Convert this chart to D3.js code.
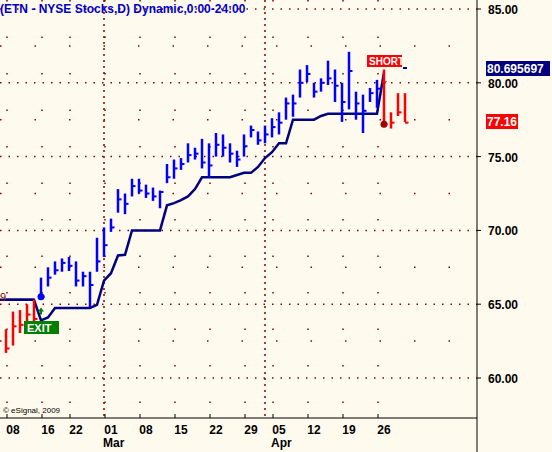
<!DOCTYPE html>
<html><head><meta charset="utf-8">
<script src="https://cdn.jsdelivr.net/npm/d3@7"></script>
<style>body{margin:0;background:#fffaee}svg{display:block;font-family:"Liberation Sans",Arial,sans-serif}</style>
</head><body><svg id="c" width="552" height="452"></svg>
<script>
// daily bars: high / low / close-tick, colour per bar
const highs = [63.3,64.5,64.6,65.0,65.3, 66.8,67.5,67.9,68.1,68.2,67.9,67.2,67.2,69.5,70.2,70.8,72.8,72.5,73.5,73.5,73.1,72.9,72.7,74.5,74.8,74.9,75.9,75.6,76.2,75.9,76.6,76.5,75.9,75.4,76.5,77.1,76.7,77.1,77.6,78.0,79.0,79.2,80.9,81.2,80.0,80.3,81.5,80.9,80.0,82.1,79.4,79.2,79.65,80.2, 80.9,78.0,79.3,79.3];
const lows  = [61.7,62.2,63.05,63.05,63.05, 65.4,66.2,67.0,67.2,67.25,66.2,66.2,64.75,67.2,68.2,69.9,71.2,71.1,72.3,72.5,72.2,72.0,71.5,73.2,73.5,74.1,74.6,74.8,74.2,73.6,75.0,75.0,74.6,74.3,75.0,76.3,75.8,75.9,76.3,76.5,77.5,77.7,79.0,80.05,79.0,79.4,79.85,78.7,77.35,78.2,77.5,76.6,78.7,78.3, 77.0,76.9,77.75,77.35];
const closes= [62.0,63.5,63.6,64.3,64.0, 65.5,66.8,67.3,67.8,67.6,66.6,66.9,66.3,67.9,69.0,70.2,72.1,71.8,73.0,72.7,72.5,72.3,72.6,73.6,74.2,74.5,75.1,75.2,74.6,74.4,75.8,75.6,75.2,74.8,75.7,76.8,76.1,76.5,77.0,77.3,78.6,78.6,80.0,80.6,79.4,80.0,80.3,79.8,78.7,80.8,78.6,78.1,79.3,79.6, 77.2,77.3,78.0,77.3];
const sides = [-1,-1,-1,-1,-1, ...Array(49).fill(1), -1,-1,-1,-1];
const stops = [65.3,65.3,65.3,65.3,65.3, 63.9,64.1,64.75,64.75,64.75,64.75,64.75,64.75,64.95,66.6,67.1,68.3,68.35,70.0,70.0,70.0,70.0,70.0,71.7,71.85,72.05,72.3,72.8,73.6,73.6,73.6,73.6,73.6,73.75,73.9,73.9,74.3,74.9,75.3,75.9,75.9,77.5,77.5,77.5,77.5,77.75,77.9,77.9,77.9,77.9,77.9,77.9,77.9,77.9,80.7];
const tickIdx = [0,5,9,14,19,24,29,34,38,43,48,53];
const tickLbl = ["08","16","22","01","08","15","22","29","05","12","19","26"];
const months = [{i:14,t:"Mar"},{i:38,t:"Apr"}];
const monthLines = [14,37];
const yTicks = [60,65,70,75,80,85];

const svg = d3.select("#c");
const W = 477, B = 418;
const x = d3.scaleLinear().domain([0,57]).range([6,405]);
const y = d3.scaleLinear().domain([60,85]).range([378,9]);
const red = "#ff0000", blue = "#0000ff", navy = "#000080", grid = "#8b0000";

svg.append("rect").attr("width",552).attr("height",452).attr("fill","#fffaee");

// dotted grid
const g = svg.append("g");
d3.range(60,85.1,2.5).forEach(v => {
  g.append("line").attr("x1",0).attr("x2",W).attr("y1",y(v)).attr("y2",y(v))
    .attr("stroke",grid).attr("stroke-width",1.5).attr("stroke-dasharray", v % 5 === 0 ? "1.5,7" : "1.5,33");
});
tickIdx.forEach(i => {
  g.append("line").attr("x1",x(i)+1).attr("x2",x(i)+1).attr("y1",0).attr("y2",B)
    .attr("stroke",grid).attr("stroke-width",1.5).attr("stroke-dasharray","1.5,35");
});
monthLines.forEach(i => {
  g.append("line").attr("x1",x(i)).attr("x2",x(i)).attr("y1",0).attr("y2",B)
    .attr("stroke",grid).attr("stroke-width",1.5).attr("stroke-dasharray","2,4");
});

// trailing stop
svg.append("path").datum(stops)
  .attr("d", d3.line().x((d,i)=>x(i)).y(d=>y(d)))
  .attr("fill","none").attr("stroke",navy).attr("stroke-width",2.5);
svg.append("line").attr("x1",0).attr("x2",x(4)).attr("y1",y(65.3)).attr("y2",y(65.3)).attr("stroke",navy).attr("stroke-width",2.5);
svg.append("line").attr("x1",x(57)-2).attr("x2",x(57)+2).attr("y1",y(81)).attr("y2",y(81)).attr("stroke",navy).attr("stroke-width",2);

// bars
const bars = svg.append("g");
highs.forEach((h,i) => {
  const c = sides[i] > 0 ? blue : red;
  bars.append("line").attr("x1",x(i)).attr("x2",x(i)).attr("y1",y(h)).attr("y2",y(lows[i])).attr("stroke",c).attr("stroke-width",2.5);
  bars.append("line").attr("x1",x(i)).attr("x2",x(i)+3.5).attr("y1",y(closes[i])).attr("y2",y(closes[i])).attr("stroke",c).attr("stroke-width",2);
});

// signals
svg.append("circle").attr("cx",x(5)).attr("cy",y(65.5)).attr("r",3.5).attr("fill",blue);
svg.append("path").attr("d",`M${x(5)-3},${y(64.5)}l3,-4l3,4z M${x(5)-1},${y(64.5)}h2v3h-2z`).attr("fill","#008000");
svg.append("rect").attr("x",24).attr("y",321).attr("width",35).attr("height",13).attr("fill","#008000");
svg.append("text").attr("x",27).attr("y",332).text("EXIT").attr("fill","#fff").attr("font-weight","bold").attr("font-size",11);
svg.append("circle").attr("cx",x(54)).attr("cy",y(77.2)).attr("r",3.5).attr("fill","#a00000");
svg.append("path").attr("d",`M${x(54)-3},${y(80.1)}l3,4l3,-4z`).attr("fill",red);
svg.append("rect").attr("x",367).attr("y",55).attr("width",35).attr("height",12).attr("fill",red);
svg.append("text").attr("x",369).attr("y",65).text("SHORT").attr("fill","#fff").attr("font-weight","bold").attr("font-size",10);
svg.append("text").attr("x",0).attr("y",301).text("9").attr("fill","#800000").attr("font-size",11);

// frame and axes
svg.append("rect").attr("x",W).attr("y",0).attr("width",552-W).attr("height",452).attr("fill","#fffaee");
svg.append("rect").attr("x",0).attr("y",B).attr("width",W).attr("height",34).attr("fill","#fffaee");
svg.append("line").attr("x1",W).attr("x2",W).attr("y1",0).attr("y2",452).attr("stroke","#000");
svg.append("line").attr("x1",0).attr("x2",W).attr("y1",B).attr("y2",B).attr("stroke","#000");
yTicks.forEach(v => {
  svg.append("line").attr("x1",W).attr("x2",W+4).attr("y1",y(v)).attr("y2",y(v)).attr("stroke","#000");
  svg.append("text").attr("x",488).attr("y",y(v)+5).text(v.toFixed(2)).attr("font-weight","bold").attr("font-size",12).attr("fill","#000");
});
tickIdx.forEach((i,k) => {
  svg.append("line").attr("x1",x(i)+1).attr("x2",x(i)+1).attr("y1",B-4).attr("y2",B).attr("stroke","#000");
  svg.append("text").attr("x",x(i)+7).attr("y",434).attr("text-anchor","middle").text(tickLbl[k]).attr("font-weight","bold").attr("font-size",12);
});
months.forEach(m => svg.append("text").attr("x",x(m.i)-1).attr("y",447).text(m.t).attr("font-weight","bold").attr("font-size",12));

// price flags
svg.append("rect").attr("x",W+9).attr("y",61).attr("width",64).attr("height",15).attr("fill",navy);
svg.append("text").attr("x",W+10).attr("y",73).text("80.695697").attr("fill","#fff").attr("font-weight","bold").attr("font-size",12);
svg.append("rect").attr("x",W+9).attr("y",114).attr("width",32).attr("height",15).attr("fill",red);
svg.append("text").attr("x",W+10).attr("y",126).text("77.16").attr("fill","#fff").attr("font-weight","bold").attr("font-size",12);

svg.append("text").attr("x",0).attr("y",13).text("(ETN - NYSE Stocks,D) Dynamic,0:00-24:00").attr("fill","#0000cc").attr("font-weight","bold").attr("font-size",12);
svg.append("text").attr("x",3).attr("y",413).text("© eSignal, 2009").attr("font-size",8).attr("fill","#000");
</script></body></html>
